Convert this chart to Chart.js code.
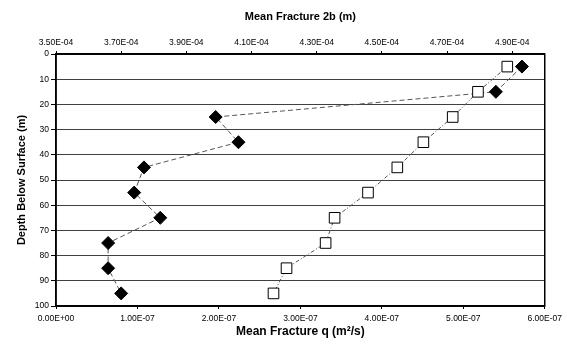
<!DOCTYPE html>
<html>
<head>
<meta charset="utf-8">
<script src="https://cdn.jsdelivr.net/npm/chart.js@4/dist/chart.umd.min.js"></script>
<style>
html,body{margin:0;padding:0;background:#fff;}
canvas{display:block;}
</style>
</head>
<body>
<canvas id="c" width="567" height="345"></canvas>
<script>
const depths = [5, 15, 25, 35, 45, 55, 65, 75, 85, 95];
const fracture2b = [4.93e-4, 4.85e-4, 3.99e-4, 4.06e-4, 3.77e-4, 3.74e-4, 3.82e-4, 3.66e-4, 3.66e-4, 3.70e-4];
const fractureQ = [5.54e-7, 5.18e-7, 4.87e-7, 4.51e-7, 4.19e-7, 3.83e-7, 3.42e-7, 3.31e-7, 2.83e-7, 2.67e-7];
const bottomTicks = [0, 1e-7, 2e-7, 3e-7, 4e-7, 5e-7, 6e-7];
const topTicks = [3.5e-4, 3.7e-4, 3.9e-4, 4.1e-4, 4.3e-4, 4.5e-4, 4.7e-4, 4.9e-4];
const depthTicks = [0, 10, 20, 30, 40, 50, 60, 70, 80, 90, 100];

const FONT = '"Liberation Sans", Arial, sans-serif';
function sci(v) {
  const parts = v.toExponential(2).split('e');
  const n = parseInt(parts[1], 10);
  return parts[0] + 'E' + (n < 0 ? '-' : '+') + String(Math.abs(n)).padStart(2, '0');
}
function setTicks(arr) {
  return function(scale) { scale.ticks = arr.map(v => ({ value: v })); };
}

const frame = {
  id: 'frame',
  afterDraw(chart) {
    const a = chart.chartArea, ctx = chart.ctx;
    ctx.save();
    ctx.strokeStyle = '#000';
    ctx.lineWidth = 1.5;
    ctx.strokeRect(a.left, a.top, a.right - a.left, a.bottom - a.top);
    ctx.restore();
  }
};

new Chart(document.getElementById('c'), {
  type: 'scatter',
  data: {
    datasets: [
      {
        label: 'Mean Fracture q',
        xAxisID: 'x',
        data: depths.map((d, i) => ({ x: fractureQ[i], y: d })),
        showLine: true,
        borderColor: '#555',
        borderWidth: 1,
        borderDash: [4, 2, 1, 2],
        pointStyle: 'rect',
        pointRadius: 7.5,
        pointBackgroundColor: '#fff',
        pointBorderColor: '#000',
        pointBorderWidth: 1
      },
      {
        label: 'Mean Fracture 2b',
        xAxisID: 'x2',
        data: depths.map((d, i) => ({ x: fracture2b[i], y: d })),
        showLine: true,
        borderColor: '#555',
        borderWidth: 1,
        borderDash: [5, 3],
        pointStyle: 'rectRot',
        pointRadius: 6.5,
        pointBackgroundColor: '#000',
        pointBorderColor: '#000',
        pointBorderWidth: 1
      }
    ]
  },
  options: {
    responsive: false,
    animation: false,
    layout: { padding: { left: 0, right: 19, top: 0, bottom: 0 } },
    plugins: { legend: { display: false }, tooltip: { enabled: false } },
    scales: {
      x: {
        type: 'linear',
        position: 'bottom',
        min: 0,
        max: 6e-7,
        afterBuildTicks: setTicks(bottomTicks),
        afterFit(scale) { scale.height = 39; },
        grid: { drawOnChartArea: false, drawTicks: true, tickLength: 3, color: '#000' },
        border: { display: true, color: '#000', width: 1.5 },
        ticks: { color: '#000', font: { family: FONT, size: 8.5 }, padding: 5, maxRotation: 0, autoSkip: false, callback: v => sci(v) },
        title: { display: true, text: 'Mean Fracture q (m²/s)', color: '#000', font: { family: FONT, size: 12, weight: 'bold' }, padding: { top: 0, bottom: 6 } }
      },
      x2: {
        type: 'linear',
        position: 'top',
        min: 3.5e-4,
        max: 5.0e-4,
        afterBuildTicks: setTicks(topTicks),
        afterFit(scale) { scale.height = 54; },
        grid: { drawOnChartArea: false, drawTicks: true, tickLength: 3, color: '#000' },
        border: { display: true, color: '#000', width: 1.5 },
        ticks: { color: '#000', font: { family: FONT, size: 8.5 }, padding: 3, maxRotation: 0, autoSkip: false, callback: v => sci(v) },
        title: { display: true, text: 'Mean Fracture 2b (m)', color: '#000', font: { family: FONT, size: 11, weight: 'bold' }, padding: { top: 10, bottom: 0 } }
      },
      y: {
        type: 'linear',
        position: 'left',
        reverse: true,
        min: 0,
        max: 100,
        afterBuildTicks: setTicks(depthTicks),
        afterFit(scale) { scale.width = 56; },
        grid: { drawOnChartArea: true, drawTicks: true, tickLength: 5, color: '#404040', tickColor: '#000', lineWidth: 1 },
        border: { display: true, color: '#000', width: 1.5 },
        ticks: { color: '#000', font: { family: FONT, size: 8.5 }, padding: 2, autoSkip: false },
        title: { display: true, text: 'Depth Below Surface (m)', color: '#000', font: { family: FONT, size: 11, weight: 'bold' }, padding: { top: 15, bottom: 0 } }
      }
    }
  },
  plugins: [frame]
});
</script>
</body>
</html>
